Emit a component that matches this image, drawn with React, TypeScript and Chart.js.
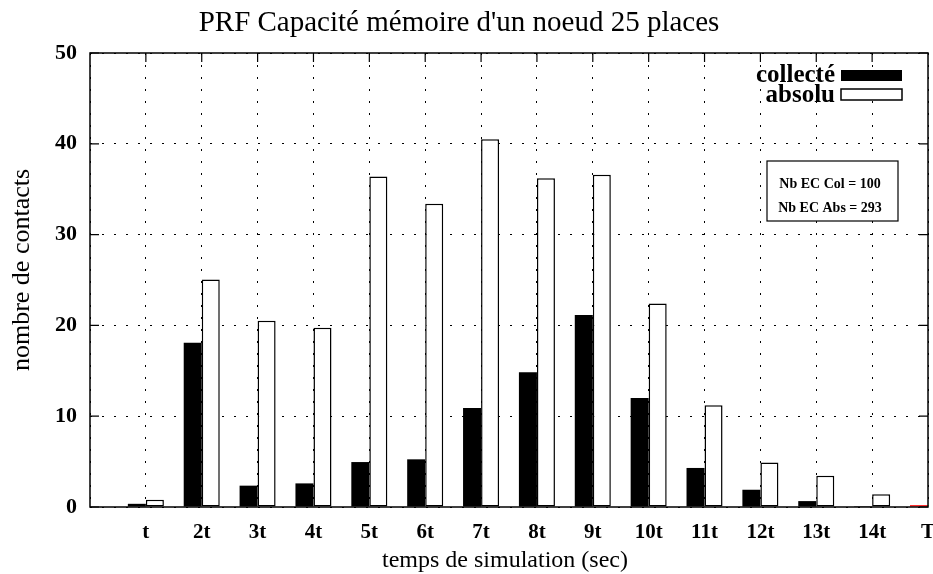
import React, { useEffect, useRef } from 'react';
import { Chart, registerables } from 'chart.js';

Chart.register(...registerables);

// Time steps along the x axis (index 0 is the origin, left empty)
const categories = ['', 't', '2t', '3t', '4t', '5t', '6t', '7t', '8t', '9t', '10t', '11t', '12t', '13t', '14t', 'T'];

// Number of contacts per time step
const collecte = [null, 0.35, 18.1, 2.35, 2.6, 4.95, 5.25, 10.9, 14.85, 21.15, 12.0, 4.3, 1.9, 0.65, 0.1, 0.2];
const absolu = [null, 0.8, 25.05, 20.5, 19.75, 36.4, 33.4, 40.5, 36.2, 36.6, 22.4, 11.2, 4.9, 3.45, 1.4, 0.2];

const seriesLabels = ['collecté', 'absolu'];
const yTickMin = 0;
const yTickMax = 50;
const yTickStep = 10;

const titleText = "PRF Capacité mémoire d'un noeud 25 places";
const xTitle = 'temps de simulation (sec)';
const yTitle = 'nombre de contacts';
const infoLines = ['Nb EC Col = 100', 'Nb EC Abs = 293'];

const SERIF = '"Liberation Serif", "DejaVu Serif", serif';

const collecteFill = categories.map((_, i) => (i === categories.length - 1 ? '#ff0000' : '#000000'));
const absoluFill = categories.map((_, i) => (i === categories.length - 1 ? '#00ff00' : '#ffffff'));
const absoluBorder = categories.map((_, i) => (i === categories.length - 1 ? '#00ff00' : '#000000'));

const decorPlugin = {
  id: 'decor',
  afterDraw(chart: any) {
    const { ctx, chartArea } = chart;
    const { left, right, top, bottom } = chartArea;
    const xs = chart.scales.x;
    const ys = chart.scales.y;
    ctx.save();

    // plot frame
    ctx.strokeStyle = '#000';
    ctx.lineWidth = 1.5;
    ctx.strokeRect(left, top, right - left, bottom - top);

    // inward tick marks
    ctx.lineWidth = 1.2;
    ctx.beginPath();
    for (let v = yTickMin; v <= yTickMax; v += yTickStep) {
      const y = ys.getPixelForValue(v);
      ctx.moveTo(left, y);
      ctx.lineTo(left + 9, y);
      ctx.moveTo(right, y);
      ctx.lineTo(right - 9, y);
    }
    for (let i = 1; i < categories.length - 1; i++) {
      const x = xs.getPixelForValue(i);
      ctx.moveTo(x, top);
      ctx.lineTo(x, top + 9);
    }
    ctx.stroke();

    // title
    ctx.fillStyle = '#000';
    ctx.textAlign = 'center';
    ctx.textBaseline = 'middle';
    ctx.font = `29px ${SERIF}`;
    ctx.fillText(titleText, 459, 23);

    // axis titles
    ctx.font = `24px ${SERIF}`;
    ctx.fillText(xTitle, 505, 561);
    ctx.save();
    ctx.translate(22, 270);
    ctx.rotate(-Math.PI / 2);
    ctx.font = `26px ${SERIF}`;
    ctx.fillText(yTitle, 0, 0);
    ctx.restore();

    // legend
    ctx.font = `bold 25px ${SERIF}`;
    ctx.textAlign = 'right';
    ctx.fillText(seriesLabels[0], 835, 76);
    ctx.fillText(seriesLabels[1], 835, 96);
    ctx.fillStyle = '#000';
    ctx.fillRect(841, 70, 61, 11);
    ctx.fillStyle = '#fff';
    ctx.fillRect(841, 89, 61, 11);
    ctx.strokeStyle = '#000';
    ctx.lineWidth = 1.5;
    ctx.strokeRect(841, 89, 61, 11);

    // info box
    ctx.fillStyle = '#fff';
    ctx.fillRect(767, 161, 131, 60);
    ctx.lineWidth = 1.2;
    ctx.strokeRect(767, 161, 131, 60);
    ctx.fillStyle = '#000';
    ctx.textAlign = 'center';
    ctx.font = `bold 14px ${SERIF}`;
    ctx.fillText(infoLines[0], 830, 184);
    ctx.fillText(infoLines[1], 830, 208);

    ctx.restore();
  },
};

export default function App() {
  const canvasRef = useRef<HTMLCanvasElement | null>(null);

  useEffect(() => {
    document.body.style.margin = '0';
    const canvas = canvasRef.current;
    if (!canvas) return;
    const chart = new Chart(canvas, {
      type: 'bar',
      data: {
        labels: categories,
        datasets: [
          {
            label: seriesLabels[0],
            data: collecte,
            backgroundColor: collecteFill,
            borderWidth: 0,
            categoryPercentage: 0.645,
            barPercentage: 1,
            clip: { left: 0, top: 0, right: 1, bottom: 3 },
          },
          {
            label: seriesLabels[1],
            data: absolu,
            backgroundColor: absoluFill,
            borderColor: absoluBorder,
            borderWidth: 1.5,
            borderSkipped: false,
            categoryPercentage: 0.645,
            barPercentage: 1,
            clip: { left: 0, top: 0, right: 1, bottom: 3 },
          },
        ],
      },
      options: {
        responsive: false,
        animation: false,
        layout: { padding: { top: 53, right: 5, left: 0, bottom: 0 } },
        plugins: {
          legend: { display: false },
          title: { display: false },
          tooltip: { enabled: false },
        },
        scales: {
          x: {
            type: 'category',
            offset: false,
            grid: {
              offset: false,
              color: '#000',
              lineWidth: 1,
              drawTicks: false,
            },
            border: { display: false, dash: [2, 10] },
            ticks: {
              color: '#000',
              padding: 13,
              maxRotation: 0,
              autoSkip: false,
              font: { family: SERIF, size: 21, weight: 'bold' },
            },
            afterFit(scale: any) {
              scale.height = 67;
              scale.paddingLeft = 0;
              scale.paddingRight = 0;
            },
          },
          y: {
            min: yTickMin,
            max: yTickMax,
            grid: {
              color: '#000',
              lineWidth: 1,
              drawTicks: false,
            },
            border: { display: false, dash: [2, 10] },
            ticks: {
              stepSize: yTickStep,
              color: '#000',
              padding: 13,
              font: { family: SERIF, size: 22, weight: 'bold' },
            },
            afterFit(scale: any) {
              scale.width = 90;
              scale.paddingTop = 0;
              scale.paddingBottom = 0;
            },
          },
        },
      },
      plugins: [decorPlugin],
    });
    return () => chart.destroy();
  }, []);

  return (
    <canvas
      ref={canvasRef}
      width={933}
      height={574}
      style={{ display: 'block', position: 'absolute', left: 0, top: 0, background: '#fff' }}
    />
  );
}
